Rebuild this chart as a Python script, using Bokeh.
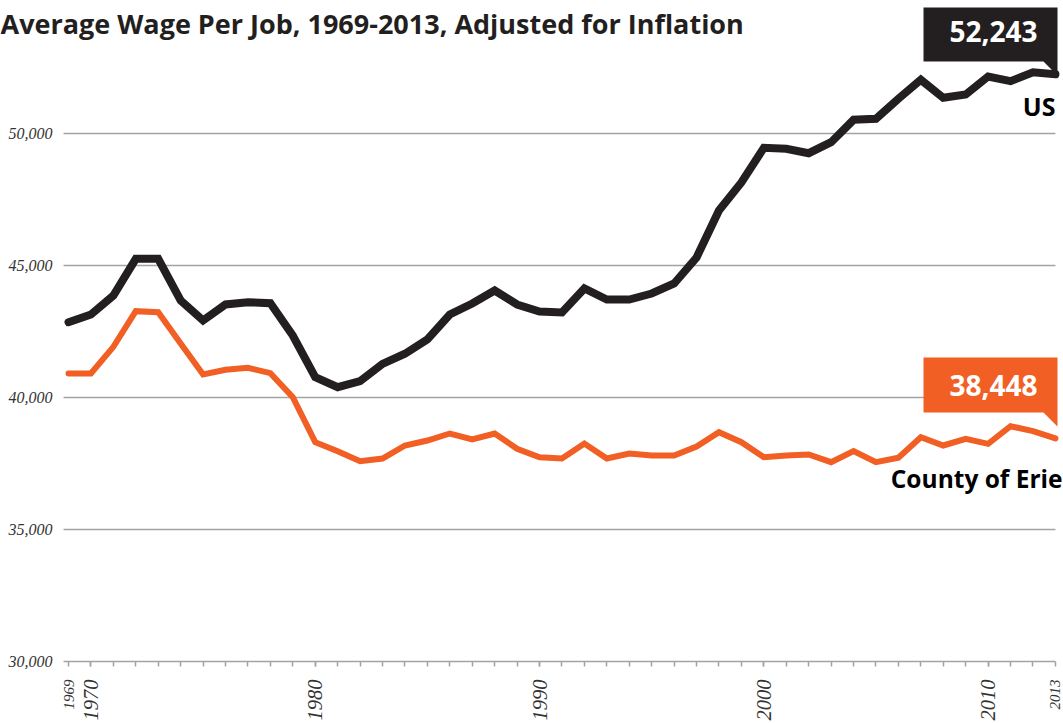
from math import pi

from bokeh.plotting import figure
from bokeh.models import Range1d, Label, FixedTicker, NumeralTickFormatter, LinearAxis
from bokeh.embed import file_html
from bokeh.resources import INLINE

# ---- data -----------------------------------------------------------------
years = list(range(1969, 2014))

us_wage = [42853, 43144, 43864, 45253, 45253, 43674, 42917, 43523, 43611, 43573,
           42348, 40770, 40390, 40617, 41275, 41657, 42197, 43144, 43561, 44053,
           43523, 43258, 43220, 44129, 43712, 43712, 43939, 44318, 45303, 47083,
           48144, 49458, 49420, 49254, 49670, 50519, 50557, 51314, 52034, 51352,
           51477, 52159, 51982, 52322, 52243]

erie_wage = [40909, 40909, 41919, 43270, 43232, 42045, 40871, 41048, 41124, 40922,
             40013, 38308, 37967, 37588, 37689, 38182, 38371, 38636, 38409, 38636,
             38056, 37739, 37689, 38258, 37689, 37879, 37803, 37803, 38144, 38686,
             38307, 37739, 37803, 37841, 37550, 37967, 37550, 37716, 38497, 38182,
             38434, 38245, 38913, 38724, 38448]

y_ticks = [30000, 35000, 40000, 45000, 50000]
decade_ticks = [1970, 1980, 1990, 2000, 2010]
end_ticks = [1969, 2013]

title_text = "Average Wage Per Job, 1969-2013, Adjusted for Inflation"

# ---- layout constants -----------------------------------------------------
W, H = 1063, 723
PX_X = 22.43            # pixels per year
PX_Y = 0.0264           # pixels per dollar
BASE_PX = 661           # canvas row of the 30,000 baseline
FIRST_PX = 68           # canvas column of the first year
PLOT_LEFT_PX = 63       # where guide lines start
X0 = years[0] - FIRST_PX / PX_X
X1 = X0 + W / PX_X
Y0 = y_ticks[0] - (H - BASE_PX) / PX_Y
Y1 = y_ticks[0] + BASE_PX / PX_Y

US_COLOR = "#231f20"
ERIE_COLOR = "#f15f24"
GRID_COLOR = "#a3a3a3"
LABEL_COLOR = "#333333"


def xd(px):
    """canvas x pixel -> data x"""
    return X0 + px / PX_X


def yd(py):
    """canvas y pixel (from top) -> data y"""
    return y_ticks[0] + (BASE_PX - py) / PX_Y


p = figure(width=W, height=H, x_range=Range1d(X0, X1), y_range=Range1d(Y0, Y1),
           output_backend="svg", toolbar_location=None, min_border=0)
p.outline_line_color = None
p.background_fill_color = "white"
p.border_fill_color = "white"
p.xgrid.visible = False
p.ygrid.visible = False

# horizontal guide lines
grid_vals = y_ticks[1:]
p.segment(x0=[xd(PLOT_LEFT_PX)] * len(grid_vals), x1=[years[-1]] * len(grid_vals),
          y0=grid_vals, y1=grid_vals, line_color=GRID_COLOR, line_width=1.5)

# x axis pinned to the baseline: decade labels, a tick for every year
xa = p.xaxis[0]
xa.fixed_location = y_ticks[0]
xa.ticker = FixedTicker(ticks=decade_ticks, minor_ticks=years)
xa.bounds = (xd(PLOT_LEFT_PX), years[-1])
xa.axis_line_color = GRID_COLOR
xa.axis_line_width = 1.5
xa.major_tick_line_color = GRID_COLOR
xa.major_tick_line_width = 1.5
xa.major_tick_out = 5
xa.major_tick_in = 0
xa.minor_tick_line_color = GRID_COLOR
xa.minor_tick_line_width = 1.5
xa.minor_tick_out = 5
xa.minor_tick_in = 0
xa.major_label_orientation = pi / 2
xa.major_label_standoff = 13
xa.major_label_text_font = "Liberation Serif"
xa.major_label_text_font_style = "italic"
xa.major_label_text_font_size = "20.5px"
xa.major_label_text_color = LABEL_COLOR

# first and last years, in a smaller size
xa2 = LinearAxis(fixed_location=y_ticks[0], ticker=FixedTicker(ticks=end_ticks))
xa2.axis_line_color = None
xa2.major_tick_line_color = None
xa2.minor_tick_line_color = None
xa2.major_tick_out = 5
xa2.major_tick_in = 0
xa2.major_label_orientation = pi / 2
xa2.major_label_standoff = 13
xa2.major_label_text_font = "Liberation Serif"
xa2.major_label_text_font_style = "italic"
xa2.major_label_text_font_size = "15px"
xa2.major_label_text_color = LABEL_COLOR
p.add_layout(xa2, "below")

ya = p.yaxis[0]
ya.fixed_location = xd(PLOT_LEFT_PX)
ya.ticker = FixedTicker(ticks=y_ticks)
ya.formatter = NumeralTickFormatter(format="0,0")
ya.axis_line_color = None
ya.major_tick_line_color = None
ya.minor_tick_line_color = None
ya.major_tick_out = 0
ya.major_tick_in = 0
ya.major_label_standoff = 11
ya.major_label_text_font = "Liberation Serif"
ya.major_label_text_font_style = "italic"
ya.major_label_text_font_size = "16px"
ya.major_label_text_color = LABEL_COLOR

# series
p.line(years, erie_wage, line_color=ERIE_COLOR, line_width=6,
       line_cap="round", line_join="miter")
p.line(years, us_wage, line_color=US_COLOR, line_width=8,
       line_cap="round", line_join="miter")


def callout(top_px, bottom_px, color, value, nudge):
    left_px, right_px = 923, 1057
    xs = [xd(left_px), xd(right_px), xd(right_px), xd(right_px - 14), xd(left_px)]
    ys = [yd(top_px), yd(top_px), yd(bottom_px + 14), yd(bottom_px), yd(bottom_px)]
    p.patch(xs, ys, fill_color=color, line_color=None)
    p.add_layout(Label(x=xd((left_px + right_px) / 2 + 3),
                       y=yd((top_px + bottom_px) / 2 + nudge),
                       text=f"{value:,}", text_align="center", text_baseline="middle",
                       text_font="Open Sans", text_font_style="bold",
                       text_font_size="28px", text_color="white"))


callout(7, 61, US_COLOR, us_wage[-1], -3)
callout(357, 412, ERIE_COLOR, erie_wage[-1], 0)

p.add_layout(Label(x=xd(1055), y=yd(105), text="US", text_align="right",
                   text_baseline="alphabetic", text_font="Open Sans",
                   text_font_style="bold", text_font_size="25px", text_color="black"))
p.add_layout(Label(x=xd(1062), y=yd(478), text="County of Erie", text_align="right",
                   text_baseline="alphabetic", text_font="Open Sans",
                   text_font_style="bold", text_font_size="24.5px", text_color="black"))

p.add_layout(Label(x=xd(0), y=yd(23), text=title_text, text_align="left",
                   text_baseline="alphabetic", text_font="Open Sans",
                   text_font_style="bold", text_font_size="27px", text_color=US_COLOR))

open("out.html", "w").write(file_html(p, INLINE))
